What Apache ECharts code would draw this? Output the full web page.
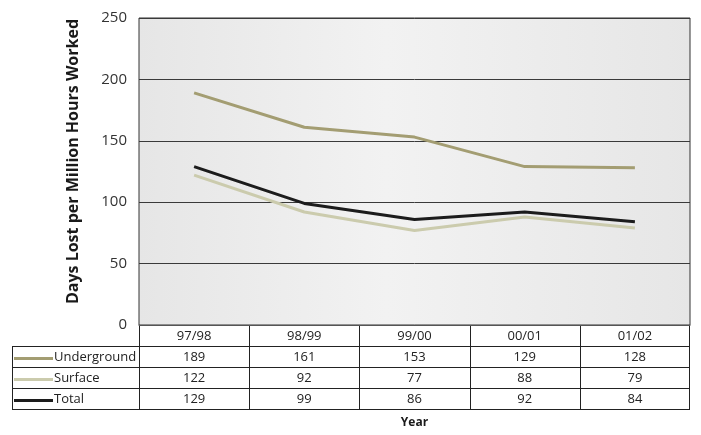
<!DOCTYPE html>
<html>
<head>
<meta charset="utf-8">
<script src="https://cdn.jsdelivr.net/npm/echarts@6/dist/echarts.min.js"></script>
<style>
  html, body { margin: 0; padding: 0; background: #fff; }
  #chart { width: 701px; height: 435px; }
</style>
</head>
<body>
<div id="chart"></div>
<script>
// Lost-time rates by financial year
var years = ['97/98', '98/99', '99/00', '00/01', '01/02'];
var underground = [189, 161, 153, 129, 128];
var surface = [122, 92, 77, 88, 79];
var total = [129, 99, 86, 92, 84];
var seriesNames = ['Underground', 'Surface', 'Total'];
var seriesColors = ['#a39d72', '#cbcbad', '#1c1c1c'];
var yTicks = [0, 50, 100, 150, 200, 250];

var FONT = '"Open Sans", "Noto Sans", sans-serif';
var GRID = { left: 139, right: 11, top: 18, bottom: 110 };

var chart = echarts.init(document.getElementById('chart'));

var rows = [underground, surface, total];

chart.setOption({
  animation: false,
  grid: {
    left: GRID.left, right: GRID.right, top: GRID.top, bottom: GRID.bottom,
    show: true,
    borderColor: '#333',
    borderWidth: 1,
    backgroundColor: {
      type: 'linear', x: 0, y: 0, x2: 1, y2: 0,
      colorStops: [
        { offset: 0, color: '#e6e6e6' },
        { offset: 0.45, color: '#f2f2f2' },
        { offset: 1, color: '#e6e6e6' }
      ]
    }
  },
  xAxis: {
    type: 'category',
    data: years,
    boundaryGap: true,
    axisLine: { show: true, lineStyle: { color: '#555', width: 1 } },
    axisTick: { show: false },
    axisLabel: { show: false }
  },
  yAxis: {
    type: 'value',
    min: 0, max: 250, interval: 50,
    name: 'Days Lost per Million Hours Worked',
    nameLocation: 'middle',
    nameGap: 58,
    nameTextStyle: { fontFamily: FONT, fontSize: 16, fontWeight: 'bold', color: '#1a1a1a', padding: [0, 0, 0, 20] },
    axisLine: { show: false },
    axisTick: { show: false },
    axisLabel: {
      fontFamily: FONT, fontSize: 15, color: '#333', margin: 12,
      formatter: function (v) { return yTicks.indexOf(v) >= 0 ? String(v) : ''; }
    },
    splitLine: { show: true, lineStyle: { color: '#3a3a3a', width: 1 } }
  },
  series: seriesNames.map(function (name, i) {
    return {
      name: name,
      type: 'line',
      data: rows[i],
      symbol: 'none',
      lineStyle: { color: seriesColors[i], width: 3 },
      z: 3 + i
    };
  })
});

// Data table under the plot: header row of years, then one row per series
function buildTable() {
  var left = GRID.left, right = 701 - GRID.right;
  var top = 435 - GRID.bottom;
  var rowH = 21;
  var tableLeft = 12;
  var g = [];
  var lineStyle = { stroke: '#222', lineWidth: 1 };
  var nRows = rows.length;
  var bottom = top + rowH * (nRows + 1);

  // horizontal rules
  for (var r = 1; r <= nRows + 1; r++) {
    var y = top + rowH * r + 0.5;
    g.push({ type: 'line', shape: { x1: tableLeft, y1: y, x2: right, y2: y }, style: lineStyle });
  }
  // outer verticals
  g.push({ type: 'line', shape: { x1: tableLeft + 0.5, y1: top + rowH, x2: tableLeft + 0.5, y2: bottom }, style: lineStyle });
  g.push({ type: 'line', shape: { x1: left + 0.5, y1: top, x2: left + 0.5, y2: bottom }, style: lineStyle });
  g.push({ type: 'line', shape: { x1: right - 0.5, y1: top, x2: right - 0.5, y2: bottom }, style: lineStyle });

  var colW = (right - left) / years.length;
  for (var c = 1; c < years.length; c++) {
    var x = Math.round(left + colW * c) + 0.5;
    g.push({ type: 'line', shape: { x1: x, y1: top, x2: x, y2: bottom }, style: lineStyle });
  }

  var textStyle = function (t, x, y, align) {
    return {
      type: 'text', x: x, y: y,
      style: { text: t, fontFamily: FONT, fontSize: 13, fill: '#222', align: align || 'center', verticalAlign: 'middle' }
    };
  };

  years.forEach(function (yr, i) {
    var cx = chart.convertToPixel({ xAxisIndex: 0 }, yr);
    g.push(textStyle(yr, cx, top + rowH / 2 + 1));
    rows.forEach(function (vals, r) {
      g.push(textStyle(String(vals[i]), cx, top + rowH * (r + 1) + rowH / 2 + 1));
    });
  });

  // row headers with line swatches
  seriesNames.forEach(function (name, r) {
    var cy = top + rowH * (r + 1) + rowH / 2 + 1;
    g.push({ type: 'line', shape: { x1: 14, y1: cy + 1, x2: 53, y2: cy + 1 }, style: { stroke: seriesColors[r], lineWidth: 3 } });
    g.push(textStyle(name, 54, cy, 'left'));
  });

  // x-axis title
  g.push({
    type: 'text', x: (left + right) / 2, y: 423,
    style: { text: 'Year', fontFamily: FONT, fontSize: 12, fontWeight: 'bold', fill: '#1a1a1a', align: 'center', verticalAlign: 'middle' }
  });

  chart.setOption({ graphic: { elements: g } });
}
buildTable();
</script>
</body>
</html>
